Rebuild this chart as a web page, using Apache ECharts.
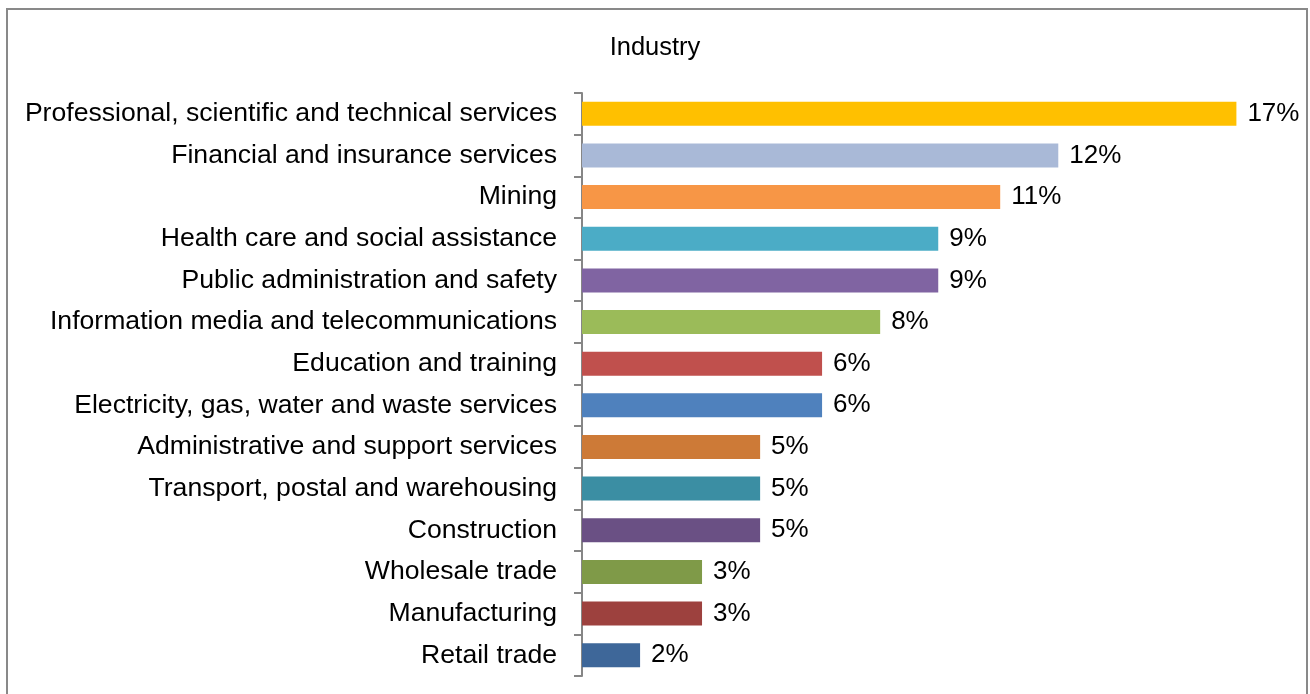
<!DOCTYPE html>
<html>
<head>
<meta charset="utf-8">
<script src="https://cdn.jsdelivr.net/npm/echarts@6/dist/echarts.min.js"></script>
<style>
html,body{margin:0;padding:0;background:#fff;}
#chart{width:1310px;height:694px;}
</style>
</head>
<body>
<div id="chart"></div>
<script>
const titleText = 'Industry';
const categories = [
  'Professional, scientific and technical services',
  'Financial and insurance services',
  'Mining',
  'Health care and social assistance',
  'Public administration and safety',
  'Information media and telecommunications',
  'Education and training',
  'Electricity, gas, water and waste services',
  'Administrative and support services',
  'Transport, postal and warehousing',
  'Construction',
  'Wholesale trade',
  'Manufacturing',
  'Retail trade'
];
const values = [16.9, 12.3, 10.8, 9.2, 9.2, 7.7, 6.2, 6.2, 4.6, 4.6, 4.6, 3.1, 3.1, 1.5];
const barColors = [
  '#FFC000', '#A9B9D7', '#F79646', '#4BACC6', '#8064A2', '#9BBB59', '#C0504D',
  '#4F81BD', '#CD7A37', '#3B8EA3', '#6A5084', '#7F9A48', '#9D413E', '#3E6799'
];

const chart = echarts.init(document.getElementById('chart'), null, {renderer: 'canvas'});
const FONT = 'Liberation Sans, Arial, sans-serif';
chart.setOption({
  animation: false,
  backgroundColor: '#fff',
  title: {
    text: titleText,
    left: 'center',
    top: 30,
    textStyle: {fontFamily: FONT, fontSize: 25.5, fontWeight: 'normal', color: '#000'}
  },
  graphic: [{
    type: 'rect',
    shape: {x: 7, y: 9, width: 1300, height: 700},
    style: {fill: 'none', stroke: '#898989', lineWidth: 2},
    silent: true
  }],
  grid: {left: 582, top: 93, height: 583, width: 697, containLabel: false},
  xAxis: {
    type: 'value', min: 0, max: 18, show: false,
    splitLine: {show: false}
  },
  yAxis: {
    type: 'category',
    inverse: true,
    data: categories,
    axisLine: {show: true, lineStyle: {color: '#868686', width: 2}},
    axisTick: {show: true, length: 8, lineStyle: {color: '#868686', width: 2}},
    axisLabel: {margin: 25, fontFamily: FONT, fontSize: 26.6, color: '#000'}
  },
  series: [{
    type: 'bar',
    barWidth: 24,
    data: values.map((v, i) => ({value: v, itemStyle: {color: barColors[i]}})),
    label: {
      show: true, position: 'right', distance: 11,
      fontFamily: FONT, fontSize: 26, color: '#000',
      formatter: p => Math.round(p.value) + '%'
    }
  }]
});
</script>
</body>
</html>
